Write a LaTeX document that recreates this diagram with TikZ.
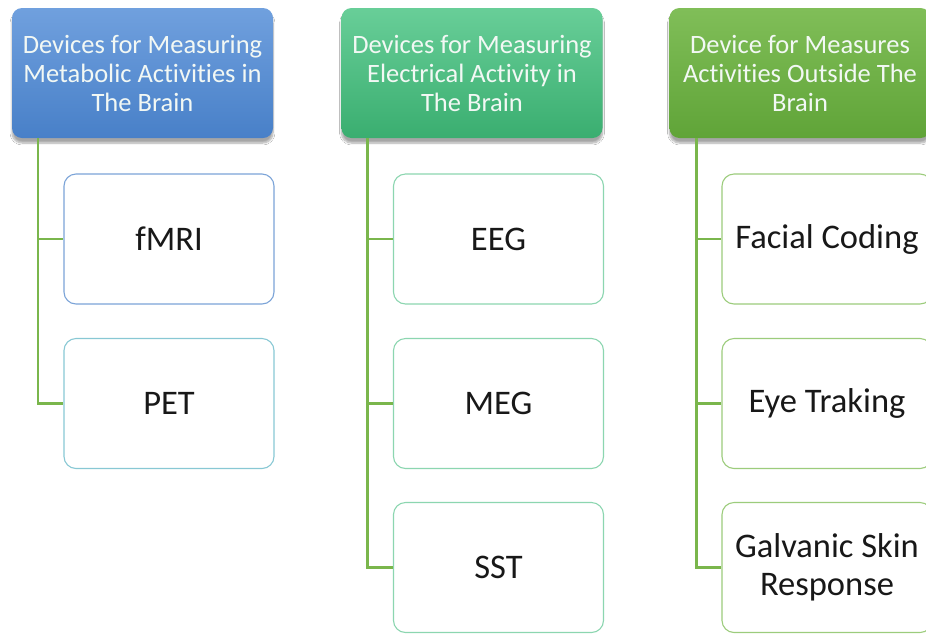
\documentclass[tikz,border=0pt]{standalone}
\usepackage{fontspec}
\setmainfont{Carlito}[Ligatures={NoCommon,NoContextual}, Contextuals={NoAlternate}]
\usetikzlibrary{shadows.blur}

\definecolor{hdrAtop}{RGB}{112,160,222}
\definecolor{hdrAbot}{RGB}{72,128,200}
\definecolor{hdrBtop}{RGB}{104,206,152}
\definecolor{hdrBbot}{RGB}{58,174,112}
\definecolor{hdrCtop}{RGB}{128,190,88}
\definecolor{hdrCbot}{RGB}{96,164,56}
\definecolor{edgeA}{RGB}{124,164,216}
\definecolor{edgeA2}{RGB}{136,200,212}
\definecolor{edgeB}{RGB}{140,214,176}
\definecolor{edgeC}{RGB}{156,204,124}
\definecolor{linkcol}{RGB}{122,182,76}
\definecolor{hdrtext}{RGB}{242,248,244}
\definecolor{itemtext}{RGB}{24,24,24}

\tikzset{
  header/.style={rounded corners=10pt, minimum width=261pt, minimum height=130pt,
    inner sep=0pt, align=center, text=hdrtext,
    font=\fontsize{26.5}{29}\selectfont,
    blur shadow={shadow xshift=0pt, shadow yshift=-5pt, shadow blur steps=8, shadow opacity=35}},
  item/.style={draw, rounded corners=12pt, line width=1.1pt, fill=white,
    minimum width=210pt, minimum height=130pt, inner sep=0pt, align=center,
    text=itemtext, font=\fontsize{34.5}{38}\selectfont},
  link/.style={draw=linkcol, line width=2.6pt}
}

\begin{document}
\begin{tikzpicture}[x=1pt,y=-1pt]
\useasboundingbox (0,0) rectangle (926,633);
\clip (0,0) rectangle (926,633);
\fill[white] (0,0) rectangle (926,633);

% column heads
\node[header, top color=hdrAtop, bottom color=hdrAbot] (h1) at (142.5,73)
  {Devices for Measuring\\Metabolic Activities in\\The Brain};
\node[header, top color=hdrBtop, bottom color=hdrBbot] (h2) at (472,73)
  {Devices for Measuring\\Electrical Activity in\\The Brain};
\node[header, top color=hdrCtop, bottom color=hdrCbot] (h3) at (800,73)
  {Device for Measures\\Activities Outside The\\Brain};

% devices
\node[item, draw=edgeA]  (fmri) at (169,239) {fMRI};
\node[item, draw=edgeA2] (pet)  at (169,403.5) {PET};

\node[item, draw=edgeB] (eeg) at (498.5,239) {EEG};
\node[item, draw=edgeB] (meg) at (498.5,403.5) {MEG};
\node[item, draw=edgeB] (sst) at (498.5,567.5) {SST};

\node[item, draw=edgeC] (face) at (827,239) {Facial Coding};
\node[item, draw=edgeC] (eye)  at (827,403.5) {Eye Traking};
\node[item, draw=edgeC] (gsr)  at (827,567.5) {Galvanic Skin\\Response};

% tree connectors
\draw[link] ([xshift=26pt]h1.south west) |- (pet.west);
\draw[link] ([xshift=26pt]h1.south west) |- (fmri.west);

\draw[link] ([xshift=26pt]h2.south west) |- (sst.west);
\draw[link] ([xshift=26pt]h2.south west) |- (meg.west);
\draw[link] ([xshift=26pt]h2.south west) |- (eeg.west);

\draw[link] ([xshift=27pt]h3.south west) |- (gsr.west);
\draw[link] ([xshift=27pt]h3.south west) |- (eye.west);
\draw[link] ([xshift=27pt]h3.south west) |- (face.west);
\end{tikzpicture}
\end{document}
